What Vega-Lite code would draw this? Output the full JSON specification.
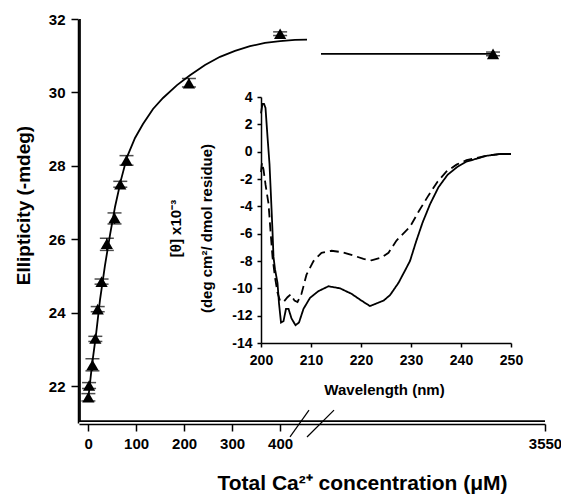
{
  "$schema": "https://vega.github.io/schema/vega-lite/v6.json",
  "width": 466,
  "height": 404,
  "autosize": {"type": "none"},
  "padding": {"left": 79, "top": 19, "right": 16, "bottom": 72},
  "config": {
    "view": {"stroke": null},
    "font": "Liberation Sans",
    "axis": {
      "domain": true, "ticks": true,
      "domainColor": "black", "tickColor": "black", "labelColor": "black", "titleColor": "black",
      "labelFont": "Liberation Sans", "titleFont": "Liberation Sans",
      "labelFontWeight": "bold", "titleFontWeight": "bold",
      "grid": false, "domainWidth": 1.5, "tickWidth": 1.5,
      "labelFlush": false, "labelOverlap": false, "labelBound": false
    }
  },
  "datasets": {
    "points": [
      {"conc": 0.5, "ell": 21.7, "lo": 21.6, "hi": 21.8},
      {"conc": 2, "ell": 22.02, "lo": 21.94, "hi": 22.1},
      {"conc": 9, "ell": 22.58, "lo": 22.42, "hi": 22.75},
      {"conc": 15, "ell": 23.3, "lo": 23.22, "hi": 23.36},
      {"conc": 20, "ell": 24.1, "lo": 24.03, "hi": 24.17},
      {"conc": 28, "ell": 24.85, "lo": 24.78, "hi": 24.92},
      {"conc": 39, "ell": 25.88, "lo": 25.7, "hi": 26.03},
      {"conc": 55, "ell": 26.58, "lo": 26.42, "hi": 26.72},
      {"conc": 67, "ell": 27.5, "lo": 27.42, "hi": 27.58},
      {"conc": 80, "ell": 28.15, "lo": 28.02, "hi": 28.28},
      {"conc": 210, "ell": 30.25, "lo": 30.15, "hi": 30.38},
      {"conc": 400, "ell": 31.6, "lo": 31.55, "hi": 31.65},
      {"conc": 2858, "ell": 31.05, "lo": 31.0, "hi": 31.1}
    ],
    "fit": [
      {"seg": "a", "conc": 0, "ell": 21.63},
      {"seg": "a", "conc": 8.1, "ell": 22.58},
      {"seg": "a", "conc": 16.4, "ell": 23.4},
      {"seg": "a", "conc": 24.75, "ell": 24.35},
      {"seg": "a", "conc": 35.2, "ell": 25.3},
      {"seg": "a", "conc": 45.6, "ell": 26.12},
      {"seg": "a", "conc": 56, "ell": 26.88},
      {"seg": "a", "conc": 68.5, "ell": 27.62},
      {"seg": "a", "conc": 81, "ell": 28.24},
      {"seg": "a", "conc": 97.7, "ell": 28.76},
      {"seg": "a", "conc": 114.3, "ell": 29.14},
      {"seg": "a", "conc": 135.2, "ell": 29.55},
      {"seg": "a", "conc": 156, "ell": 29.85},
      {"seg": "a", "conc": 185.2, "ell": 30.2},
      {"seg": "a", "conc": 212.25, "ell": 30.47},
      {"seg": "a", "conc": 243.5, "ell": 30.75},
      {"seg": "a", "conc": 274.75, "ell": 30.97},
      {"seg": "a", "conc": 306, "ell": 31.13},
      {"seg": "a", "conc": 337.25, "ell": 31.26},
      {"seg": "a", "conc": 368.5, "ell": 31.35},
      {"seg": "a", "conc": 399.75, "ell": 31.4},
      {"seg": "a", "conc": 431, "ell": 31.43},
      {"seg": "a", "conc": 456, "ell": 31.44},
      {"seg": "b", "conc": 567, "ell": 31.05},
      {"seg": "b", "conc": 2858, "ell": 31.05}
    ],
    "frame": [
      {"fx": -17, "fy": 32},
      {"fx": -17, "fy": 21.05},
      {"fx": 3550, "fy": 21.05}
    ],
    "breaks": [
      {"x1": 420.6, "y1": 20.62, "x2": 460.2, "y2": 21.35},
      {"x1": 456, "y1": 20.62, "x2": 740, "y2": 21.35}
    ],
    "cd": [
      {"s": "solid", "nm": 200.0, "v": 2.8},
      {"s": "solid", "nm": 200.3, "v": 3.5},
      {"s": "solid", "nm": 200.6, "v": 3.5},
      {"s": "solid", "nm": 200.9, "v": 3.2},
      {"s": "solid", "nm": 201.3, "v": 1.1},
      {"s": "solid", "nm": 201.7, "v": -0.9},
      {"s": "solid", "nm": 202.0, "v": -3.3},
      {"s": "solid", "nm": 202.3, "v": -5.8},
      {"s": "solid", "nm": 202.5, "v": -7.7},
      {"s": "solid", "nm": 202.8, "v": -8.6},
      {"s": "solid", "nm": 203.3, "v": -9.6},
      {"s": "solid", "nm": 203.6, "v": -11.1},
      {"s": "solid", "nm": 204.0, "v": -12.5},
      {"s": "solid", "nm": 204.5, "v": -12.4},
      {"s": "solid", "nm": 205.0, "v": -11.5},
      {"s": "solid", "nm": 205.5, "v": -11.5},
      {"s": "solid", "nm": 206.1, "v": -12.2},
      {"s": "solid", "nm": 206.9, "v": -12.7},
      {"s": "solid", "nm": 207.6, "v": -12.5},
      {"s": "solid", "nm": 208.5, "v": -11.5},
      {"s": "solid", "nm": 209.8, "v": -10.7},
      {"s": "solid", "nm": 211.5, "v": -10.2},
      {"s": "solid", "nm": 213.5, "v": -9.85},
      {"s": "solid", "nm": 215.8, "v": -10.0},
      {"s": "solid", "nm": 218.1, "v": -10.4},
      {"s": "solid", "nm": 220.1, "v": -10.9},
      {"s": "solid", "nm": 221.8, "v": -11.3},
      {"s": "solid", "nm": 222.8, "v": -11.15},
      {"s": "solid", "nm": 224.5, "v": -10.9},
      {"s": "solid", "nm": 225.8, "v": -10.5},
      {"s": "solid", "nm": 227.5, "v": -9.6},
      {"s": "solid", "nm": 228.8, "v": -8.7},
      {"s": "solid", "nm": 229.8, "v": -8.0},
      {"s": "solid", "nm": 231.0, "v": -6.6},
      {"s": "solid", "nm": 232.3, "v": -5.2},
      {"s": "solid", "nm": 233.8, "v": -3.85},
      {"s": "solid", "nm": 235.5, "v": -2.6},
      {"s": "solid", "nm": 237.3, "v": -1.7},
      {"s": "solid", "nm": 239.3, "v": -1.1},
      {"s": "solid", "nm": 241.1, "v": -0.72},
      {"s": "solid", "nm": 243.1, "v": -0.52},
      {"s": "solid", "nm": 245.1, "v": -0.3},
      {"s": "solid", "nm": 247.8, "v": -0.17},
      {"s": "solid", "nm": 250.0, "v": -0.17},
      {"s": "dashed", "nm": 200.0, "v": -1.5},
      {"s": "dashed", "nm": 200.2, "v": -0.8},
      {"s": "dashed", "nm": 200.5, "v": -1.3},
      {"s": "dashed", "nm": 200.9, "v": -2.4},
      {"s": "dashed", "nm": 201.5, "v": -3.8},
      {"s": "dashed", "nm": 201.9, "v": -5.8},
      {"s": "dashed", "nm": 202.3, "v": -7.7},
      {"s": "dashed", "nm": 202.8, "v": -9.2},
      {"s": "dashed", "nm": 203.3, "v": -10.3},
      {"s": "dashed", "nm": 203.8, "v": -10.9},
      {"s": "dashed", "nm": 204.5, "v": -11.0},
      {"s": "dashed", "nm": 205.3, "v": -10.65},
      {"s": "dashed", "nm": 205.9, "v": -10.45},
      {"s": "dashed", "nm": 206.7, "v": -10.9},
      {"s": "dashed", "nm": 207.3, "v": -11.0},
      {"s": "dashed", "nm": 208.1, "v": -10.4},
      {"s": "dashed", "nm": 209.1, "v": -9.0},
      {"s": "dashed", "nm": 210.5, "v": -8.0},
      {"s": "dashed", "nm": 212.1, "v": -7.4},
      {"s": "dashed", "nm": 214.1, "v": -7.25},
      {"s": "dashed", "nm": 216.1, "v": -7.35},
      {"s": "dashed", "nm": 218.5, "v": -7.6},
      {"s": "dashed", "nm": 220.5, "v": -7.85},
      {"s": "dashed", "nm": 222.1, "v": -7.95},
      {"s": "dashed", "nm": 224.1, "v": -7.75},
      {"s": "dashed", "nm": 225.5, "v": -7.4},
      {"s": "dashed", "nm": 227.1, "v": -6.5},
      {"s": "dashed", "nm": 229.8, "v": -5.5},
      {"s": "dashed", "nm": 231.5, "v": -4.4},
      {"s": "dashed", "nm": 233.5, "v": -3.2},
      {"s": "dashed", "nm": 235.3, "v": -2.2},
      {"s": "dashed", "nm": 237.1, "v": -1.45},
      {"s": "dashed", "nm": 239.1, "v": -0.95},
      {"s": "dashed", "nm": 241.1, "v": -0.62},
      {"s": "dashed", "nm": 243.1, "v": -0.46},
      {"s": "dashed", "nm": 245.1, "v": -0.3},
      {"s": "dashed", "nm": 247.8, "v": -0.17},
      {"s": "dashed", "nm": 250.0, "v": -0.17}
    ]
  },
  "layer": [
    {
      "layer": [
        {
          "data": {"name": "fit"},
          "mark": {"type": "line", "color": "black", "strokeWidth": 1.8},
          "encoding": {
            "x": {
              "field": "conc", "type": "quantitative",
              "scale": {"domain": [-19, 470, 3550], "range": [0, 234.72, 466], "nice": false, "zero": false},
              "axis": {
                "orient": "bottom", "offset": 1, "domain": true, "ticks": true,
                "values": [0, 100, 200, 300, 400, 3550], "tickSize": 7, "labelPadding": 5,
                "labelFontSize": 15, "labelExpr": "'' + datum.value",
                "title": "Total Ca²⁺ concentration (μM)", "titleFontSize": 21,
                "titleX": 283, "titleY": 59, "titleBaseline": "middle"
              }
            },
            "y": {
              "field": "ell", "type": "quantitative",
              "scale": {"domain": [21, 32], "nice": false, "zero": false},
              "axis": {
                "orient": "left", "offset": 1, "domain": true, "ticks": true,
                "values": [22, 24, 26, 28, 30, 32], "tickSize": 7, "labelPadding": 6,
                "labelFontSize": 15, "labelExpr": "'' + datum.value",
                "title": "Ellipticity (-mdeg)", "titleFontSize": 19,
                "titleX": -55, "titleY": 186, "titleBaseline": "middle"
              }
            },
            "detail": {"field": "seg", "type": "nominal"}
          }
        },
        {
          "data": {"name": "frame"},
          "mark": {"type": "line", "color": "black", "strokeWidth": 1.8, "clip": false},
          "encoding": {
            "x": {"field": "fx", "type": "quantitative"},
            "y": {"field": "fy", "type": "quantitative"},
            "order": {"field": "fy", "type": "quantitative", "sort": "descending"}
          }
        },
        {
          "data": {"name": "points"},
          "mark": {"type": "rule", "color": "black", "strokeWidth": 1.5},
          "encoding": {
            "x": {"field": "conc", "type": "quantitative"},
            "y": {"field": "lo", "type": "quantitative"},
            "y2": {"field": "hi"}
          }
        },
        {
          "data": {"name": "points"},
          "mark": {"type": "tick", "color": "black", "orient": "horizontal", "size": 14, "thickness": 1.5},
          "encoding": {
            "x": {"field": "conc", "type": "quantitative"},
            "y": {"field": "lo", "type": "quantitative"}
          }
        },
        {
          "data": {"name": "points"},
          "mark": {"type": "tick", "color": "black", "orient": "horizontal", "size": 14, "thickness": 1.5},
          "encoding": {
            "x": {"field": "conc", "type": "quantitative"},
            "y": {"field": "hi", "type": "quantitative"}
          }
        },
        {
          "data": {"name": "points"},
          "mark": {"type": "point", "shape": "triangle-up", "filled": true, "color": "black", "size": 150, "opacity": 1},
          "encoding": {
            "x": {"field": "conc", "type": "quantitative"},
            "y": {"field": "ell", "type": "quantitative"}
          }
        },
        {
          "data": {"name": "breaks"},
          "mark": {"type": "rule", "color": "black", "strokeWidth": 1.2},
          "encoding": {
            "x": {"field": "x1", "type": "quantitative"},
            "y": {"field": "y1", "type": "quantitative"},
            "x2": {"field": "x2"},
            "y2": {"field": "y2"}
          }
        }
      ]
    },
    {
      "data": {"name": "cd"},
      "mark": {"type": "line", "color": "black", "strokeWidth": 1.8},
      "encoding": {
        "x": {
          "field": "nm", "type": "quantitative",
          "scale": {"domain": [200, 250], "range": [182, 432], "nice": false, "zero": false},
          "axis": {
            "orient": "bottom", "offset": -80,
            "values": [200, 210, 220, 230, 240, 250], "tickSize": 4, "labelPadding": 6,
            "labelFontSize": 14, "labelExpr": "'' + datum.value",
            "title": "Wavelength (nm)", "titleFontSize": 15,
            "titleX": 305, "titleY": 46, "titleBaseline": "middle"
          }
        },
        "y": {
          "field": "v", "type": "quantitative",
          "scale": {"domain": [-14, 4], "range": [324, 78], "nice": false, "zero": false},
          "axis": {
            "orient": "left", "offset": -182,
            "values": [-14, -12, -10, -8, -6, -4, -2, 0, 2, 4], "tickSize": 4, "labelPadding": 5,
            "labelFontSize": 14, "labelExpr": "'' + datum.value",
            "title": ["[θ] x10⁻³", "(deg cm²/ dmol residue)"], "titleFontSize": 15,
            "titleLineHeight": 31,
            "titleX": -86, "titleY": 209, "titleBaseline": "middle"
          }
        },
        "strokeDash": {
          "field": "s", "type": "nominal",
          "scale": {"domain": ["solid", "dashed"], "range": [[1, 0], [9, 5]]},
          "legend": null
        }
      }
    }
  ],
  "resolve": {
    "scale": {"x": "independent", "y": "independent"},
    "axis": {"x": "independent", "y": "independent"}
  }
}
